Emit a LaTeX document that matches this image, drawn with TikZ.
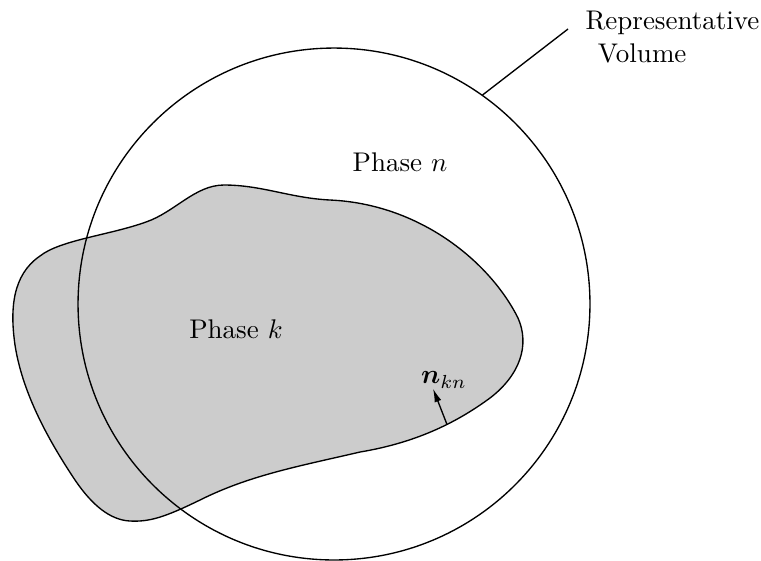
\documentclass[tikz,border=0pt]{standalone}
\usepackage{bm}
\usetikzlibrary{arrows.meta}
\begin{document}
\begin{tikzpicture}[x=0.37037pt,y=-0.37037pt,
  blob/.style={draw=black,fill=black!20,line width=0.5pt},
  vol/.style={draw=black,line width=0.5pt},
  lbl/.style={inner sep=0pt}]
\useasboundingbox (0,0) rectangle (761,560);
\draw[blob] (224,185) .. controls (262,185) and (290,198) .. (330,200)
  .. controls (420,204) and (490,262) .. (518,318)
  .. controls (530,345) and (520,375) .. (490,398)
  .. controls (460,420) and (420,442) .. (360,452)
  .. controls (300,466) and (250,475) .. (200,500)
  .. controls (165,517) and (150,522) .. (130,521)
  .. controls (110,520) and (92,505) .. (75,480)
  .. controls (45,435) and (22,390) .. (15,345)
  .. controls (10,310) and (12,275) .. (40,256)
  .. controls (60,240) and (110,235) .. (146,222)
  .. controls (175,212) and (195,185) .. (224,185) -- cycle;
\node[vol,circle,minimum size=189.6pt,inner sep=0pt] (rv) at (334,304) {};
\coordinate (touch) at (482.5,95);
\node[lbl,anchor=north west,align=left] (rvl) at (585,11) {Representative\\\hspace{4.6pt}Volume};
\coordinate (lineend) at (568,29);
\draw[line width=0.5pt] (touch) -- (lineend);
\node[lbl] (pn) at (400,162) {Phase $n$};
\node[lbl] (pk) at (236,329) {Phase $k$};
\node[lbl] (nkn) at (444,380) {$\bm{n}_{kn}$};
\coordinate (ntail) at (447,424.5);
\draw[line width=0.5pt,-{Latex[length=5pt,width=2.6pt]}] (ntail) -- (nkn.south west -| 433,393);
\end{tikzpicture}
\end{document}
